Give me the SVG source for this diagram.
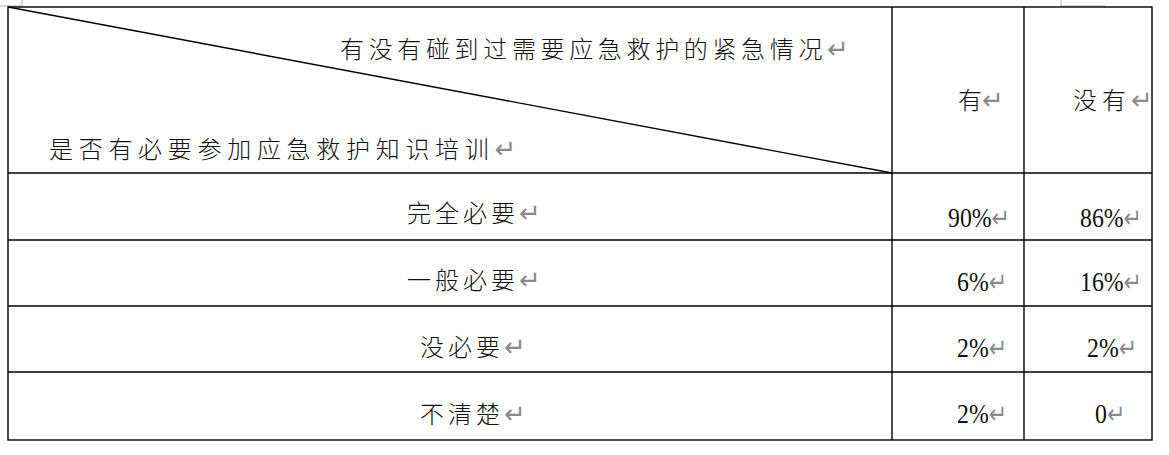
<svg xmlns="http://www.w3.org/2000/svg" width="1169" height="455" viewBox="0 0 1169 455">
<style>
.ln{stroke:#000;stroke-width:1.4;fill:none}
.mk{stroke:#b0b0b0;stroke-width:1;fill:none}
.cj{font-family:"Noto Sans CJK SC","Noto Sans CJK JP",sans-serif;font-size:24px;font-weight:300;fill:#111}
.nm{font-family:"Liberation Serif","Times New Roman",serif;font-size:28px;fill:#111}
.pm{font-family:"DejaVu Sans",sans-serif;font-size:26px;font-weight:normal;fill:#8a8a8a;letter-spacing:0}
</style>
<rect width="1169" height="455" fill="#fff"/>
<g id="marks">
<polyline class="mk" points="0,6 22,6 22,0"/>
<polyline class="mk" points="1061,0 1061,6 1105,6"/>
</g>
<g id="grid">
<rect class="ln" x="8" y="7" width="1144" height="433"/>
<line class="ln" x1="892" y1="7" x2="892" y2="440"/>
<line class="ln" x1="1024" y1="7" x2="1024" y2="440"/>
<line class="ln" x1="8" y1="173" x2="1152" y2="173"/>
<line class="ln" x1="8" y1="240" x2="1152" y2="240"/>
<line class="ln" x1="8" y1="306" x2="1152" y2="306"/>
<line class="ln" x1="8" y1="372" x2="1152" y2="372"/>
<line class="ln" x1="8" y1="7" x2="892" y2="173"/>
</g>
<g id="header">
<text class="cj" x="340" y="58" letter-spacing="4.65">有没有碰到过需要应急救护的紧急情况<tspan class="pm">↵</tspan></text>
<text class="cj" x="49" y="158" letter-spacing="5.7">是否有必要参加应急救护知识培训<tspan class="pm">↵</tspan></text>
<text class="cj" x="958" y="109">有<tspan class="pm">↵</tspan></text>
<text class="cj" x="1073" y="109" letter-spacing="5">没有<tspan class="pm">↵</tspan></text>
</g>
<g id="rows">
<text class="cj" x="407" y="222" letter-spacing="4">完全必要<tspan class="pm">↵</tspan></text>
<text class="cj" x="407" y="289" letter-spacing="4">一般必要<tspan class="pm">↵</tspan></text>
<text class="cj" x="420" y="356" letter-spacing="4">没必要<tspan class="pm">↵</tspan></text>
<text class="cj" x="420" y="423" letter-spacing="4">不清楚<tspan class="pm">↵</tspan></text>
</g>
<g id="values">
<text class="nm" transform="translate(948 227) scale(0.85 1)">90%<tspan class="pm">↵</tspan></text>
<text class="nm" transform="translate(1080 227) scale(0.85 1)">86%<tspan class="pm">↵</tspan></text>
<text class="nm" transform="translate(957 291) scale(0.85 1)">6%<tspan class="pm">↵</tspan></text>
<text class="nm" transform="translate(1080 291) scale(0.85 1)">16%<tspan class="pm">↵</tspan></text>
<text class="nm" transform="translate(957 357) scale(0.85 1)">2%<tspan class="pm">↵</tspan></text>
<text class="nm" transform="translate(1087 357) scale(0.85 1)">2%<tspan class="pm">↵</tspan></text>
<text class="nm" transform="translate(957 423) scale(0.85 1)">2%<tspan class="pm">↵</tspan></text>
<text class="nm" transform="translate(1095 423) scale(0.85 1)">0<tspan class="pm">↵</tspan></text>
</g>
</svg>
